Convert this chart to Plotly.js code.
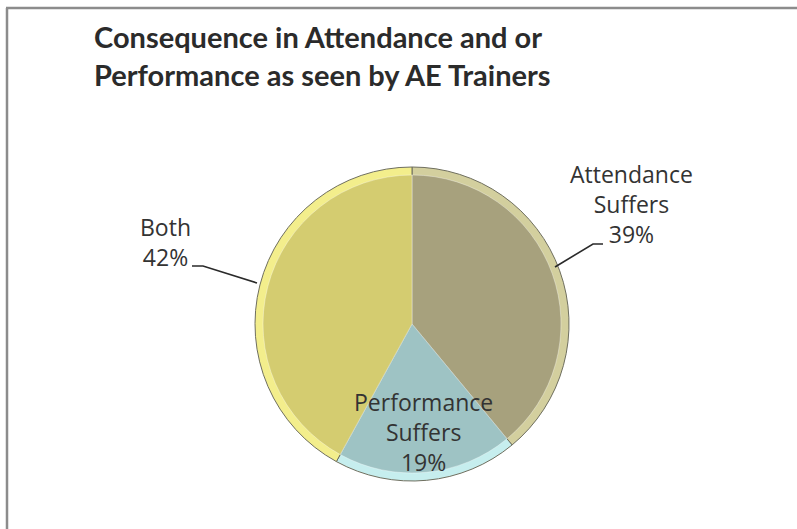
<!DOCTYPE html>
<html>
<head>
<meta charset="utf-8">
<script src="https://cdn.plot.ly/plotly-3.0.1.min.js"></script>
<style>html,body{margin:0;padding:0;background:#fff}#chart{width:797px;height:529px}</style>
</head>
<body>
<div id="chart"></div>
<script>
const categories = ["Attendance Suffers", "Performance Suffers", "Both"];
const labelLines = ["Attendance<br>Suffers", "Performance<br>Suffers", "Both"];
const values = [39, 19, 42];
const mainColors = ["#a7a17d", "#9ec3c4", "#d4cc70"];
const rimColors = ["#d3cf9e", "#c6eeee", "#f3ee8c"];
const titleText = "Consequence in Attendance and or<br>Performance as seen by AE Trainers";

const W = 797, H = 529;
const px = x => x / W;
const py = y => 1 - y / H;

const outer = {
  type: "pie", labels: categories, values: values, sort: false,
  direction: "clockwise", rotation: 0, textinfo: "none", hoverinfo: "label+percent",
  marker: {colors: rimColors, line: {color: "#6f6f5f", width: 1}},
  domain: {x: [px(255), px(569)], y: [py(481), py(167)]},
  showlegend: false
};
const inner = {
  type: "pie", labels: categories, values: values, sort: false,
  direction: "clockwise", rotation: 0, textinfo: "none", hoverinfo: "skip",
  marker: {colors: mainColors, line: {color: "rgba(255,255,255,0.35)", width: 1}},
  domain: {x: [px(263), px(561)], y: [py(473), py(175)]},
  showlegend: false
};

const total = values.reduce((a, b) => a + b, 0);
const labelPos = [[631, 204], [424, 432], [165, 242]];
const annotations = labelLines.map((t, i) => ({
  text: t + "<br>" + Math.round(values[i] / total * 100) + "%",
  xref: "paper", yref: "paper", x: px(labelPos[i][0]), y: py(labelPos[i][1]),
  xanchor: "center", yanchor: "middle", showarrow: false, align: "center",
  font: {family: "Open Sans, sans-serif", size: 23, color: "#333333"}
}));

function path(pts) {
  return pts.map((p, i) => (i ? "L" : "M") + px(p[0]) + "," + py(p[1])).join(" ");
}
const shapes = [
  {type: "path", xref: "paper", yref: "paper", path: path([[603, 244], [593, 244], [555, 267]]), line: {color: "#2a2a2a", width: 1.6}},
  {type: "path", xref: "paper", yref: "paper", path: path([[192, 266], [203, 266], [257, 283]]), line: {color: "#2a2a2a", width: 1.6}},
  {type: "line", xref: "paper", yref: "paper", x0: px(6), x1: 1, y0: py(8), y1: py(8), line: {color: "#8c8c8c", width: 2.5}},
  {type: "line", xref: "paper", yref: "paper", x0: px(7), x1: px(7), y0: py(8), y1: 0, line: {color: "#8c8c8c", width: 2.5}}
];

const layout = {
  width: W, height: H,
  margin: {l: 0, r: 0, t: 0, b: 0},
  paper_bgcolor: "#ffffff",
  title: {
    text: titleText, xref: "paper", yref: "paper", x: px(94), xanchor: "left",
    y: py(48), yanchor: "top",
    font: {family: "Lato, sans-serif", size: 29, color: "#2b2b2b", weight: "bold"}
  },
  annotations: annotations,
  shapes: shapes,
  showlegend: false
};

Plotly.newPlot("chart", [outer, inner], layout, {displayModeBar: false, staticPlot: true});
</script>
</body>
</html>
